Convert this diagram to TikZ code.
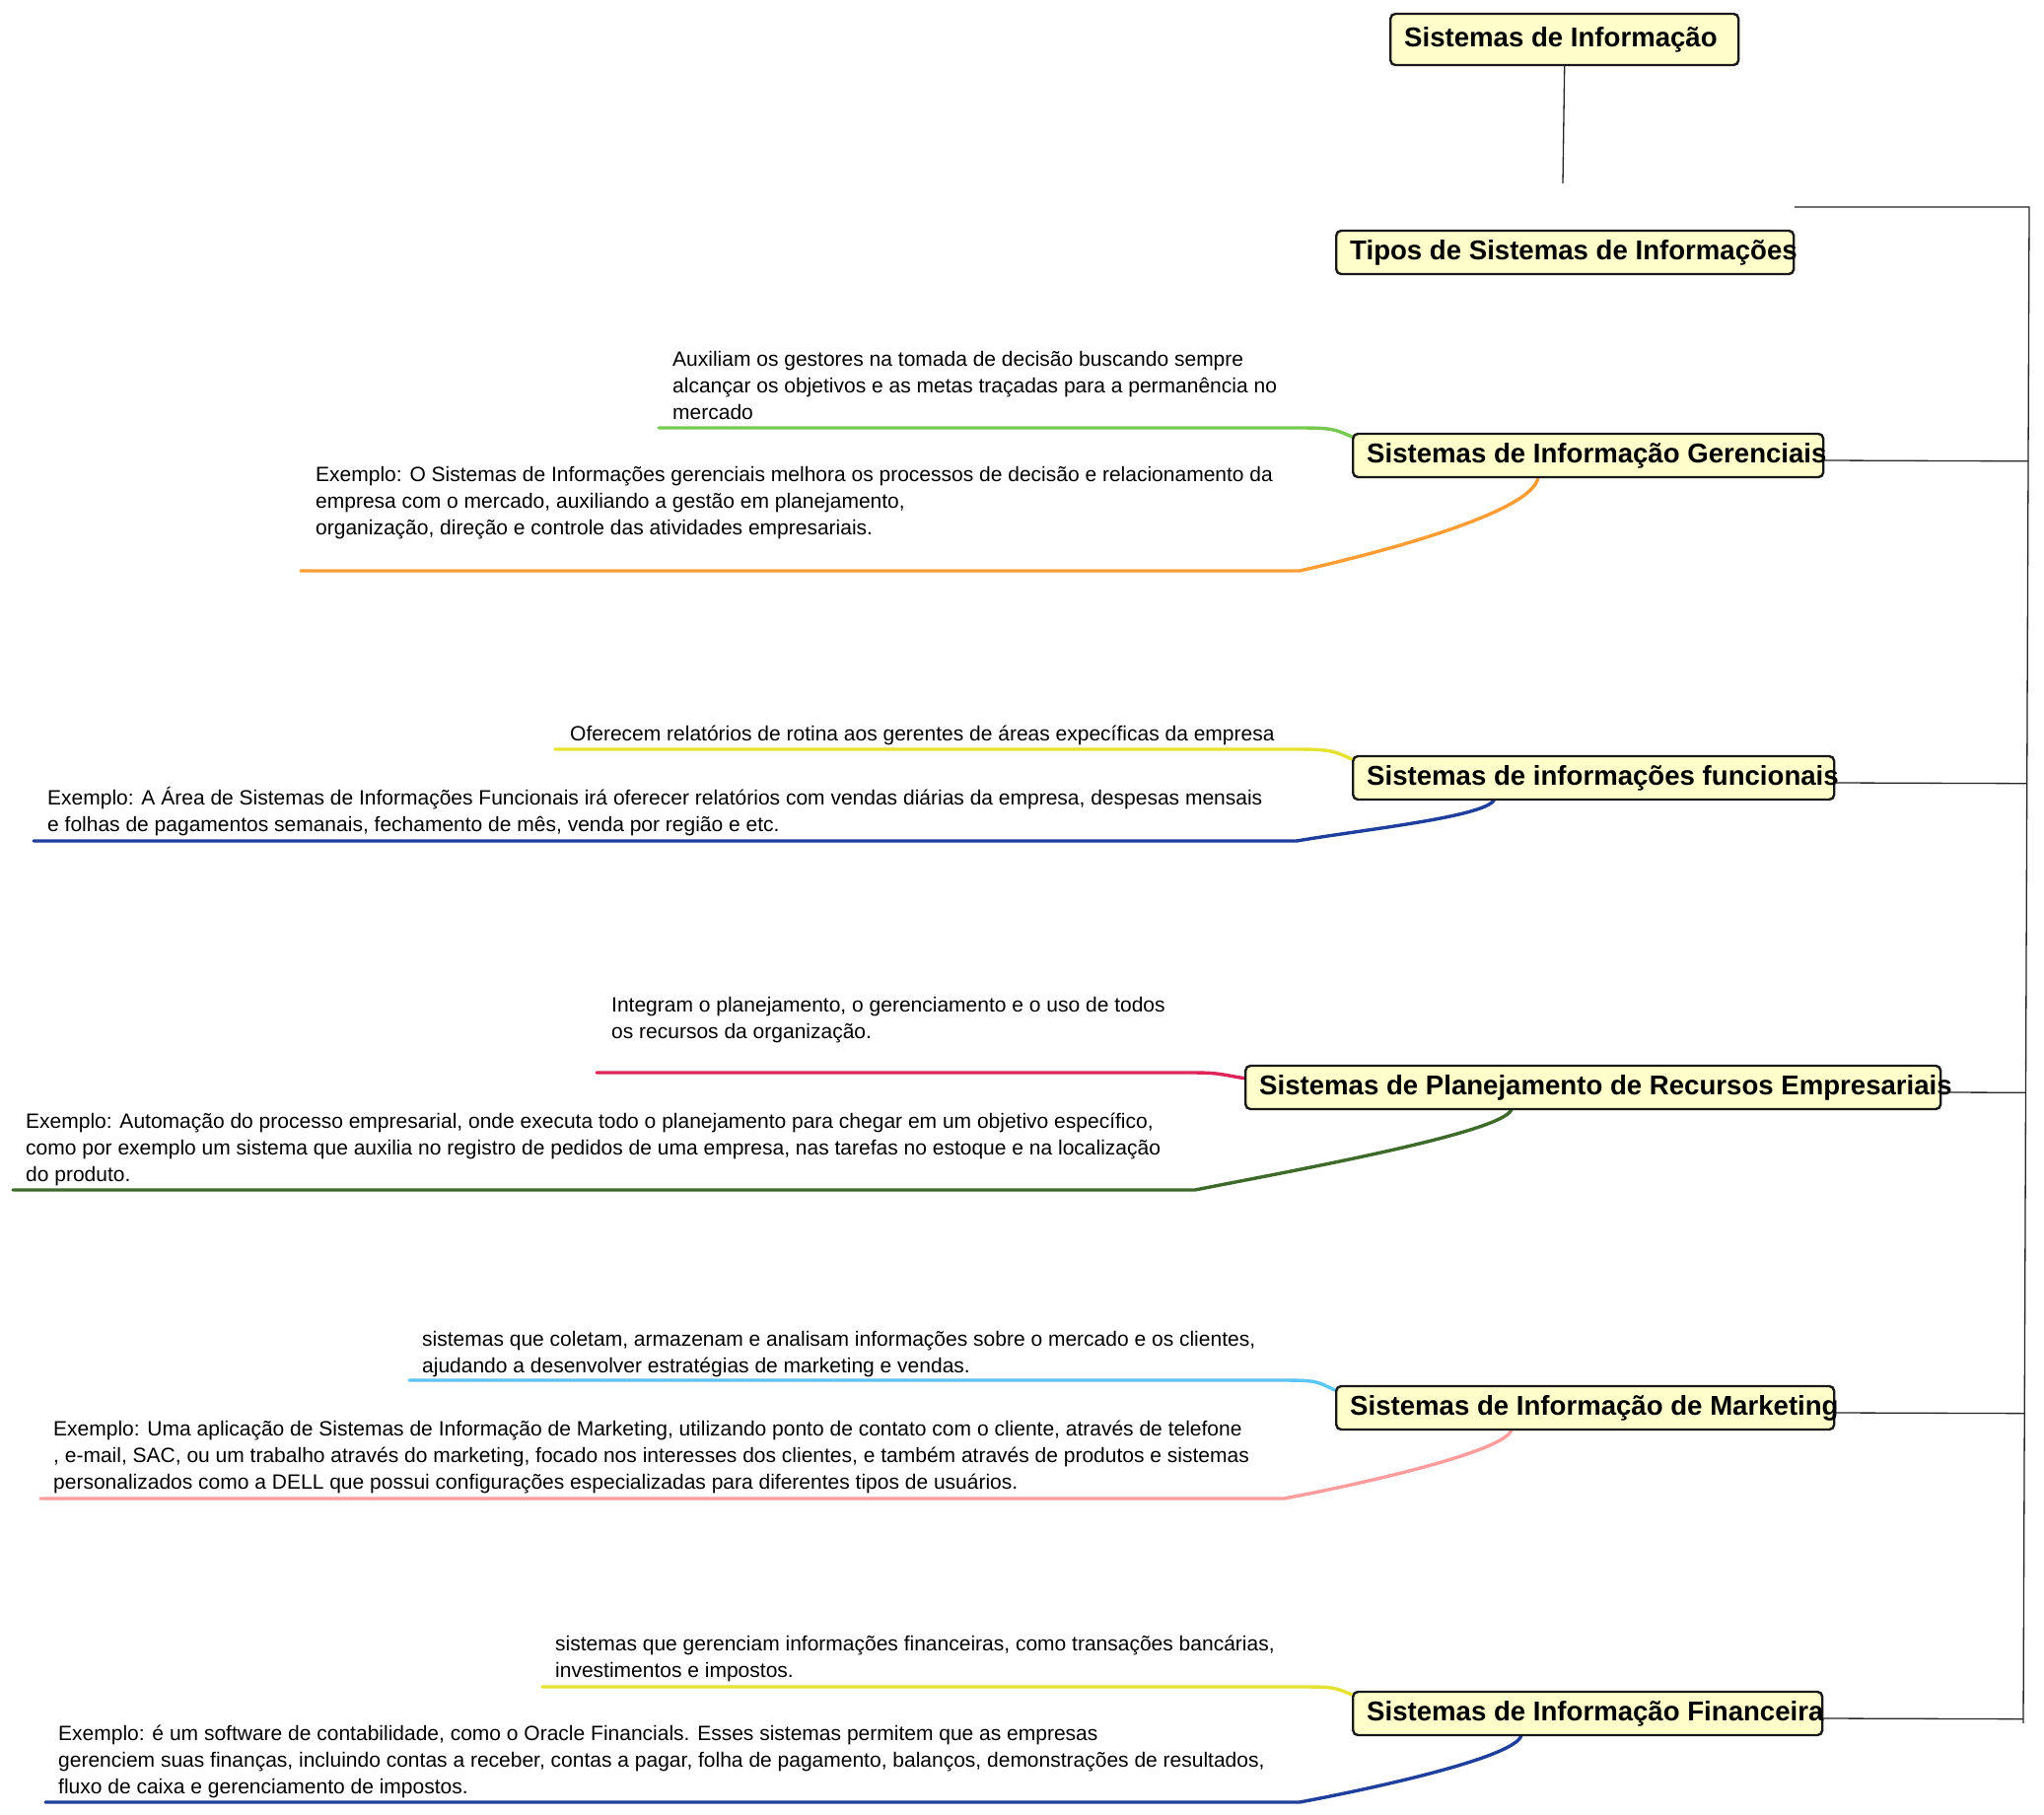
\documentclass[tikz,border=0pt]{standalone}
\usepackage{fontspec}
\setmainfont{Liberation Sans}
\usetikzlibrary{calc}

\definecolor{boxfill}{HTML}{FFFFCC}
\definecolor{cGreen}{HTML}{78C952}
\definecolor{cOrange}{HTML}{FF9C33}
\definecolor{cYellow}{HTML}{E6E232}
\definecolor{cNavy}{HTML}{1F3F9C}
\definecolor{cCrimson}{HTML}{DE2459}
\definecolor{cForest}{HTML}{3E6B2A}
\definecolor{cSky}{HTML}{5CC6F8}
\definecolor{cPink}{HTML}{FF9C9C}

% fixed-width title box content; long titles run over the right edge
\newcommand\fixw[2]{\makebox[#1][l]{#2}}

\tikzset{
  topic/.style={draw=black!90, line width=2.4pt, rounded corners=5pt, fill=boxfill,
    inner xsep=14pt, inner ysep=0pt, minimum height=44pt, anchor=west,
    font=\fontsize{27.6}{33}\selectfont\bfseries},
  note/.style={align=left, inner sep=0pt, anchor=north west,
    font=\fontsize{21}{26.8}\selectfont},
  branch/.style={line width=3.4pt, line cap=round},
  stem/.style={line width=1.3pt, black!85},
}

\begin{document}
\begin{tikzpicture}[x=1pt, y=-1pt]
\fill[white] (0,0) rectangle (2073,1841);
\useasboundingbox (0,0) rectangle (2073,1841);

% free ends of the coloured branches
\coordinate (gerD) at (668,434);   \coordinate (gerE) at (305,579);
\coordinate (funD) at (563,760);   \coordinate (funE) at (34,853);
\coordinate (erpD) at (605,1088);  \coordinate (erpE) at (13,1207);
\coordinate (mktD) at (415,1400);  \coordinate (mktE) at (41,1520);
\coordinate (finD) at (550,1711);  \coordinate (finE) at (46,1828);

% coloured branches (drawn under the boxes)
\draw[branch, cGreen] (gerD) -- ++(647,0) .. controls +(36,0) and +(-18,-8) .. (1371,443);
\draw[branch, cOrange] (1560,484) .. controls +(-5,36) and +(80,-18) .. (1318,579) -- (gerE);

\draw[branch, cYellow] (funD) -- ++(752,0) .. controls +(36,0) and +(-18,-8) .. (1371,770);
\draw[branch, cNavy] (1516,810) .. controls +(-4,18) and +(70,-12) .. (1315,853) -- (funE);

\draw[branch, cCrimson] (erpD) -- ++(603,0) .. controls +(30,0) and +(-26,-4) .. (1264,1094);
\draw[branch, cForest] (1533,1125) .. controls +(-6,24) and +(90,-18) .. (1212,1207) -- (erpE);

\draw[branch, cSky] (mktD) -- ++(887,0) .. controls +(36,0) and +(-18,-8) .. (1354,1410);
\draw[branch, cPink] (1533,1450) .. controls +(-5,22) and +(80,-15) .. (1302,1520) -- (mktE);

\draw[branch, cYellow] (finD) -- ++(765,0) .. controls +(36,0) and +(-18,-8) .. (1371,1719);
\draw[branch, cNavy] (1543,1760) .. controls +(-5,22) and +(80,-15) .. (1318,1828) -- (finE);

% title boxes
\node[topic, minimum height=52pt] (root) at (1409,40) {\fixw{325pt}{Sistemas de Informação}};
\node[topic] (tipos) at (1354,256) {\fixw{436pt}{Tipos de Sistemas de Informações}};
\node[topic] (ger)   at (1371,462) {\fixw{449pt}{Sistemas de Informação Gerenciais}};
\node[topic] (fun)   at (1371,789) {\fixw{460pt}{Sistemas de informações funcionais}};
\node[topic] (erp)   at (1262,1103) {\fixw{677pt}{Sistemas de Planejamento de Recursos Empresariais}};
\node[topic] (mkt)   at (1354,1428) {\fixw{477pt}{Sistemas de Informação de Marketing}};
\node[topic] (fin)   at (1371,1738) {\fixw{448pt}{Sistemas de Informação Financeira}};

% black tree lines
\coordinate (rootEnd) at (1585,186);
\coordinate (hubL) at (1820,210);
\coordinate (spTop) at (2058,210);
\coordinate (spBot) at (2052,1748);
\draw[stem] (root.south) -- (rootEnd);
\draw[stem] (hubL) -- (spTop) -- (spBot);
\foreach \n in {ger,fun,erp,mkt,fin}
  \draw[stem] ($(\n.east)+(0,5)$) -- ($(spTop)!($(\n.east)+(0,5)$)!(spBot)$);

% descriptions
\node[note] (gerDt) at (682,353) {\strut Auxiliam os gestores na tomada de decisão buscando sempre\\alcançar os objetivos e as metas traçadas para a permanência no\\mercado};
\node[note] (gerEt) at (320,470) {\strut Exemplo: O Sistemas de Informações gerenciais melhora os processos de decisão e relacionamento da\\empresa com o mercado, auxiliando a gestão em planejamento,\\organização, direção e controle das atividades empresariais.};

\node[note] (funDt) at (578,733) {\strut Oferecem relatórios de rotina aos gerentes de áreas expecíficas da empresa};
\node[note] (funEt) at (48,798) {\strut Exemplo: A Área de Sistemas de Informações Funcionais irá oferecer relatórios com vendas diárias da empresa, despesas mensais\\e folhas de pagamentos semanais, fechamento de mês, venda por região e etc.};

\node[note] (erpDt) at (620,1008) {\strut Integram o planejamento, o gerenciamento e o uso de todos\\os recursos da organização.};
\node[note] (erpEt) at (26,1126) {\strut Exemplo: Automação do processo empresarial, onde executa todo o planejamento para chegar em um objetivo específico,\\como por exemplo um sistema que auxilia no registro de pedidos de uma empresa, nas tarefas no estoque e na localização\\do produto.};

\node[note] (mktDt) at (428,1347) {\strut sistemas que coletam, armazenam e analisam informações sobre o mercado e os clientes,\\ajudando a desenvolver estratégias de marketing e vendas.};
\node[note] (mktEt) at (54,1438) {\strut Exemplo: Uma aplicação de Sistemas de Informação de Marketing, utilizando ponto de contato com o cliente, através de telefone\\, e-mail, SAC, ou um trabalho através do marketing, focado nos interesses dos clientes, e também através de produtos e sistemas\\personalizados como a DELL que possui configurações especializadas para diferentes tipos de usuários.};

\node[note] (finDt) at (563,1656) {\strut sistemas que gerenciam informações financeiras, como transações bancárias,\\investimentos e impostos.};
\node[note] (finEt) at (59,1747) {\strut Exemplo: é um software de contabilidade, como o Oracle Financials. Esses sistemas permitem que as empresas\\gerenciem suas finanças, incluindo contas a receber, contas a pagar, folha de pagamento, balanços, demonstrações de resultados,\\fluxo de caixa e gerenciamento de impostos.};
\end{tikzpicture}
\end{document}
